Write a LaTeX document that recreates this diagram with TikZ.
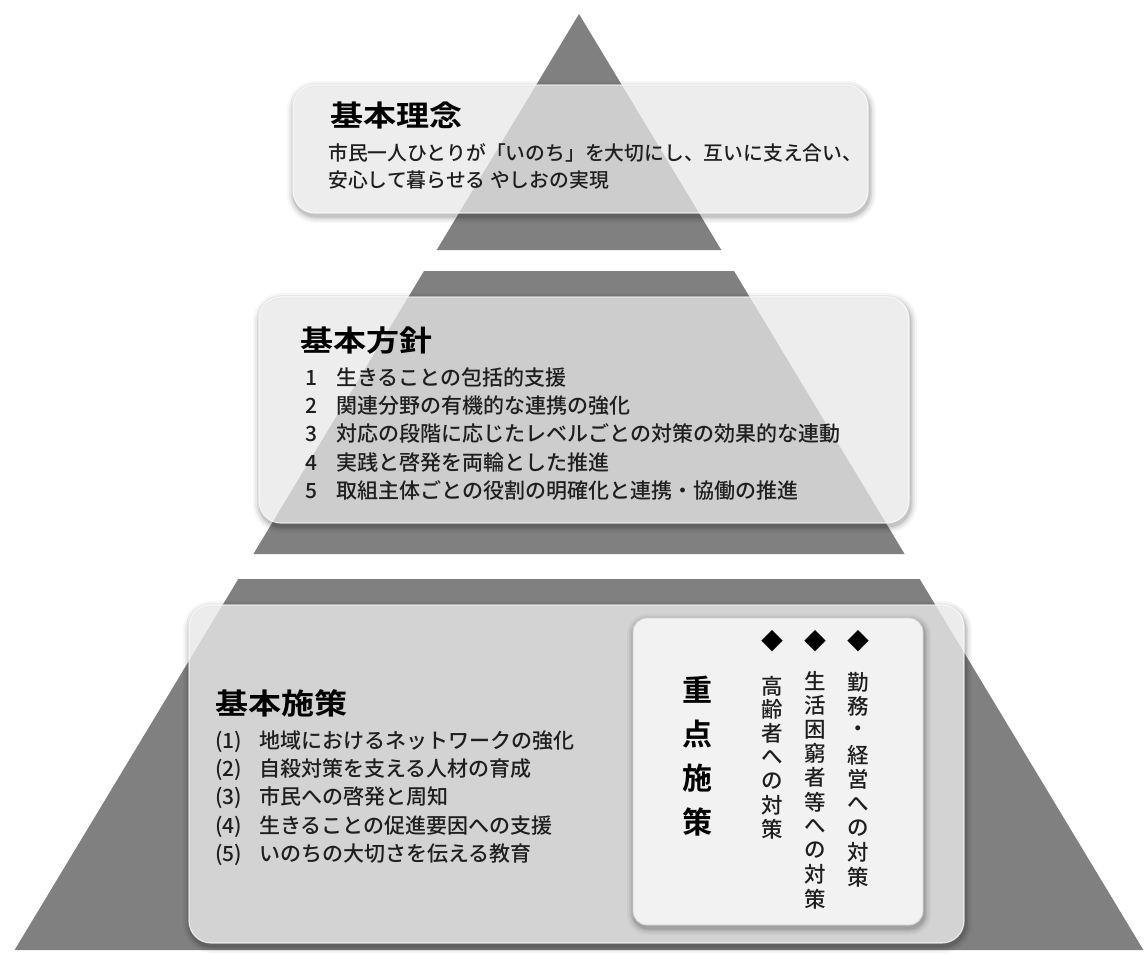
\documentclass[tikz,border=0pt]{standalone}
\usepackage{fontspec}
\setmainfont{Noto Sans CJK JP Medium}
\newfontfamily\titlefont[FakeStretch=1.14]{Noto Sans CJK JP Bold}
\newfontfamily\boldjp{Noto Sans CJK JP Bold}
\definecolor{tri}{gray}{0.5}
\definecolor{boxfill}{gray}{0.91}
\definecolor{innerfill}{gray}{0.95}
\definecolor{txt}{gray}{0.12}
% soft shadow outside a rounded box: x1 y1 x2 y2 radius
\newcommand\pshadow[5]{%
  \foreach \d/\o in {7/0.035,5/0.05,3/0.07,1.5/0.09}{%
    \fill[black,opacity=\o,even odd rule]
      [rounded corners={#5+\d}] ({#1-\d+1},{#2-\d+3}) rectangle ({#3+\d+1},{#4+\d+3})
      [rounded corners=#5] (#1,#2) rectangle (#3,#4);
  }%
}
\begin{document}
\begin{tikzpicture}[x=1pt,y=-1pt]
\tikzset{
  tier/.style={fill=tri,draw=none},
  panel/.style={fill=boxfill,fill opacity=0.74,draw=white,draw opacity=0.7,line width=1.2pt,rounded corners=22pt},
  innerpanel/.style={fill=innerfill,draw=gray!35,line width=0.8pt,rounded corners=14pt},
  ttl/.style={anchor=base west,inner sep=0pt,font=\titlefont\fontsize{29}{32}\selectfont,text=black},
  bodyA/.style={anchor=base west,inner sep=0pt,font=\fontsize{19.8}{24}\selectfont,text=txt},
  bodyB/.style={anchor=base west,inner sep=0pt,font=\fontsize{21}{24}\selectfont,text=txt},
  vttl/.style={inner sep=0pt,font=\boldjp\fontsize{30}{32}\selectfont,text=black},
  vtxt/.style={inner sep=0pt,font=\fontsize{21.5}{24}\selectfont,text=txt},
  bullet/.style={inner sep=0pt,font=\fontsize{22}{24}\selectfont,text=black}
}
\useasboundingbox (0,0) rectangle (1145,953);
\fill[white] (0,0) rectangle (1145,953);

% pyramid tiers
\fill[tier] (579,14) -- (721.3,250) -- (436.7,250) -- cycle;
\fill[tier] (424,271) -- (734,271) -- (904.6,554) -- (253.4,554) -- cycle;
\fill[tier] (238.3,579) -- (919.7,579) -- (1143.4,950) -- (14.6,950) -- cycle;

% box 1
\pshadow{293}{85}{868}{213}{22}
\path[panel] (293,85) rectangle (868,213);
\node[ttl] (t1) at (330,126) {基本理念};
\node[bodyA] (t1a) at (328,160) {市民一人ひとりが「いのち」を大切にし、互いに支え合い、};
\node[bodyA] (t1b) at (328,187) {安心して暮らせる やしおの実現};

% box 2
\pshadow{259}{297}{909}{523}{22}
\path[panel] (259,297) rectangle (909,523);
\node[ttl] (t2) at (300,351) {基本方針};
\node[bodyB] (t2a) at (305,385) {\makebox[31pt][l]{1}生きることの包括的支援};
\node[bodyB] (t2b) at (305,413.5) {\makebox[31pt][l]{2}関連分野の有機的な連携の強化};
\node[bodyB] (t2c) at (305,441.5) {\makebox[31pt][l]{3}対応の段階に応じたレベルごとの対策の効果的な連動};
\node[bodyB] (t2d) at (305,470) {\makebox[31pt][l]{4}実践と啓発を両輪とした推進};
\node[bodyB] (t2e) at (305,498) {\makebox[31pt][l]{5}取組主体ごとの役割の明確化と連携・協働の推進};

% box 3
\pshadow{189}{605}{964}{943}{22}
\path[panel,fill opacity=0.8] (189,605) rectangle (964,943);
\node[ttl] (t3) at (215,714) {基本施策};
\node[bodyB] (t3a) at (215,748) {\makebox[44pt][l]{(1)}地域におけるネットワークの強化};
\node[bodyB] (t3b) at (215,776) {\makebox[44pt][l]{(2)}自殺対策を支える人材の育成};
\node[bodyB] (t3c) at (215,804) {\makebox[44pt][l]{(3)}市民への啓発と周知};
\node[bodyB] (t3d) at (215,833) {\makebox[44pt][l]{(4)}生きることの促進要因への支援};
\node[bodyB] (t3e) at (215,861) {\makebox[44pt][l]{(5)}いのちの大切さを伝える教育};

% inner box
\pshadow{633}{618}{923}{925}{14}
\path[innerpanel] (633,618) rectangle (923,925);
\foreach \c [count=\i] in {重,点,施,策}
  \node[vttl] (v\i) at (697,{690+44*(\i-1)}) {\c};
\node[bullet] (m1) at (858,641) {◆};
\node[bullet] (m2) at (815,641) {◆};
\node[bullet] (m3) at (772,641) {◆};
\foreach \c [count=\i] in {勤,務,・,経,営,へ,の,対,策}
  \node[vtxt] (r\i) at (858,{682+24.4*(\i-1)}) {\c};
\foreach \c [count=\i] in {生,活,困,窮,者,等,へ,の,対,策}
  \node[vtxt] (s\i) at (815,{681+24.2*(\i-1)}) {\c};
\foreach \c [count=\i] in {高,齢,者,へ,の,対,策}
  \node[vtxt] (k\i) at (772,{686+23.8*(\i-1)}) {\c};
\end{tikzpicture}
\end{document}
